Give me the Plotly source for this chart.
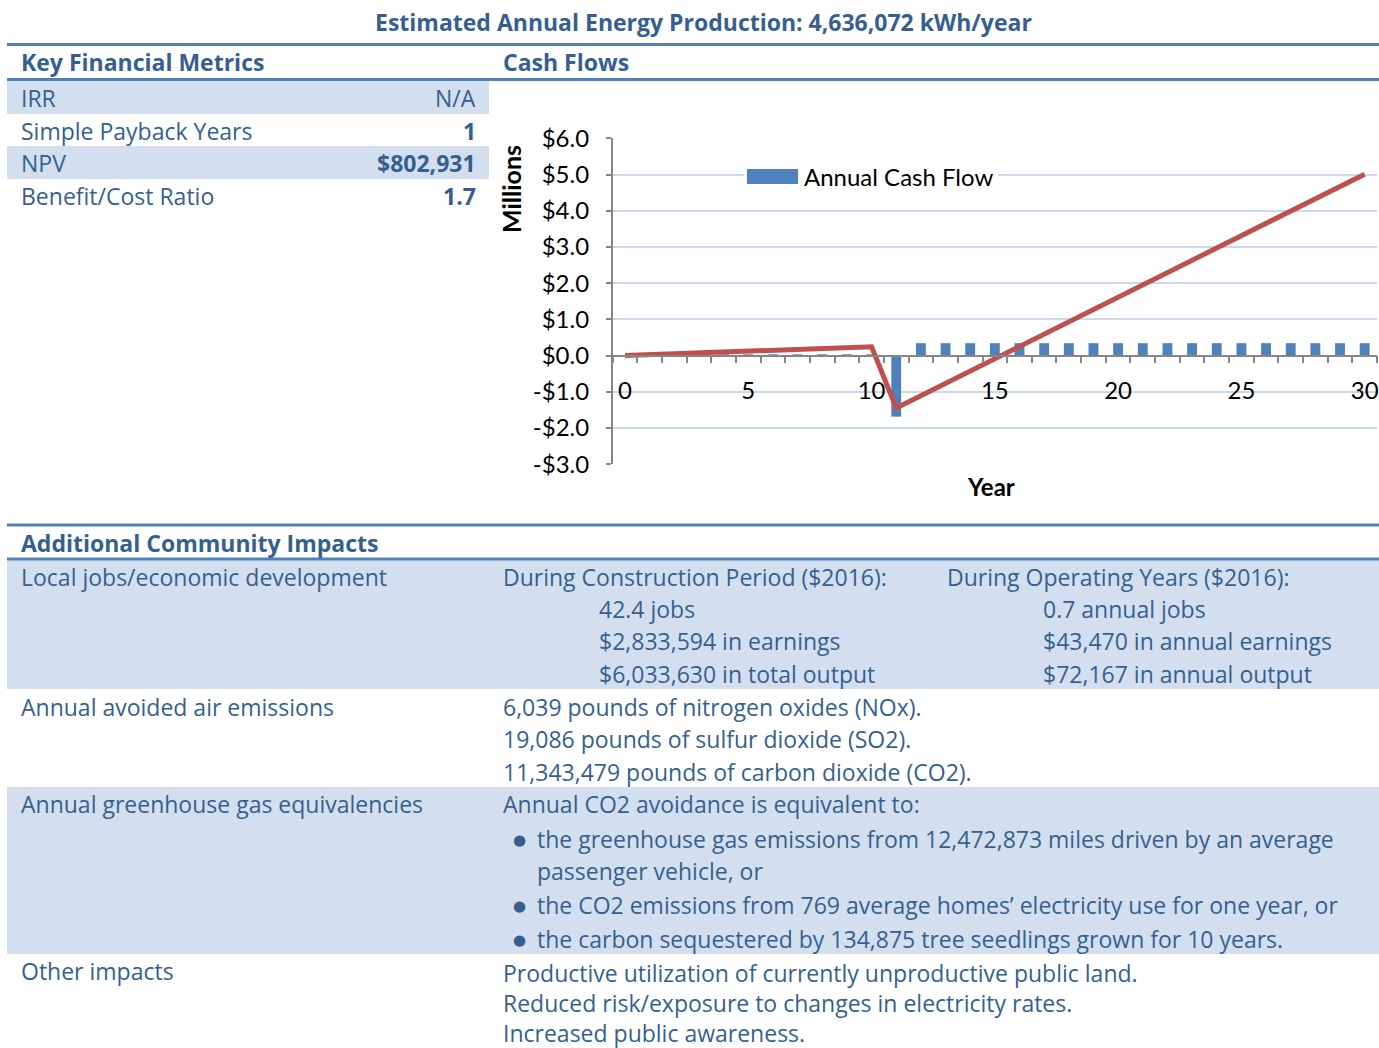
import plotly.graph_objects as go

W, H = 1379, 1048

# ---------------- data ----------------
years = list(range(31))
annual_cash_flow = [0.0, 0.024, 0.024, 0.024, 0.024, 0.024, 0.024, 0.024, 0.024, 0.024, 0.024,
                    -1.69, 0.34, 0.34, 0.34, 0.34, 0.34, 0.34, 0.34, 0.34, 0.34,
                    0.34, 0.34, 0.34, 0.34, 0.34, 0.34, 0.34, 0.34, 0.34, 0.34]
cumulative_cash_flow = [0.0, 0.024, 0.048, 0.072, 0.096, 0.12, 0.144, 0.168, 0.192, 0.216, 0.24,
                        -1.45, -1.11, -0.77, -0.43, -0.09, 0.25, 0.59, 0.93, 1.27, 1.61,
                        1.95, 2.29, 2.63, 2.97, 3.31, 3.65, 3.99, 4.33, 4.67, 5.01]
x_tick_vals = [0, 5, 10, 15, 20, 25, 30]
x_tick_text = ["0", "5", "10", "15", "20", "25", "30"]
y_tick_vals = [-3, -2, -1, 0, 1, 2, 3, 4, 5, 6]
y_tick_text = ["-$3.0", "-$2.0", "-$1.0", "$0.0", "$1.0", "$2.0", "$3.0", "$4.0", "$5.0", "$6.0"]

title_text = "Estimated Annual Energy Production: 4,636,072 kWh/year"
metric_labels = ["IRR", "Simple Payback Years", "NPV", "Benefit/Cost Ratio"]
metric_values = ["N/A", "1", "$802,931", "1.7"]
construction_lines = ["42.4 jobs", "$2,833,594 in earnings", "$6,033,630 in total output"]
operating_lines = ["0.7 annual jobs", "$43,470 in annual earnings", "$72,167 in annual output"]
emission_lines = ["6,039 pounds of nitrogen oxides (NOx).",
                  "19,086 pounds of sulfur dioxide (SO2).",
                  "11,343,479 pounds of carbon dioxide (CO2)."]
ghg_bullets = ["the greenhouse gas emissions from 12,472,873 miles driven by an average",
               "passenger vehicle, or",
               "the CO2 emissions from 769 average homes\u2019 electricity use for one year, or",
               "the carbon sequestered by 134,875 tree seedlings grown for 10 years."]
other_lines = ["Productive utilization of currently unproductive public land.",
               "Reduced risk/exposure to changes in electricity rates.",
               "Increased public awareness."]

# ---------------- style ----------------
TXT = "#365F91"
SHADE = "#D3DFEE"
RULE = "#4F81BD"
BODY_FONT = "Open Sans, Noto Sans, sans-serif"
CHART_FONT = "Lato, sans-serif"
FS = 23


def px(x):
    return x / W


def py(y):
    return 1 - y / H


fig = go.Figure()

fig.add_trace(go.Bar(x=years, y=annual_cash_flow, name="Annual Cash Flow",
                     marker=dict(color="#4F81BD", line=dict(width=0)), width=0.4,
                     showlegend=False))
fig.add_trace(go.Scatter(x=years, y=cumulative_cash_flow, mode="lines", name="Cumulative Cash Flow",
                         line=dict(color="#C0504D", width=5), showlegend=False))

shapes = []
annotations = []


def rect(x0, y0, x1, y1, color):
    shapes.append(dict(type="rect", xref="paper", yref="paper", x0=px(x0), x1=px(x1),
                       y0=py(y1), y1=py(y0), fillcolor=color, line=dict(width=0), layer="below"))


def hline(y, x0=7, x1=1379, width=3, color=RULE):
    shapes.append(dict(type="line", xref="paper", yref="paper", x0=px(x0), x1=px(x1),
                       y0=py(y), y1=py(y), line=dict(color=color, width=width), layer="above"))


def text(x, y, s, anchor="left", bold=False, size=FS, color=TXT, family=BODY_FONT, yanchor="middle"):
    if anchor == "left":
        x -= 2.5
    elif anchor == "right":
        x += 3
    annotations.append(dict(xref="paper", yref="paper", x=px(x), y=py(y), text=("<b>%s</b>" % s) if bold else s,
                            showarrow=False, xanchor=anchor, yanchor=yanchor, borderpad=0, align="left",
                            font=dict(family=family, size=size, color=color)))


# shading
rect(7, 81, 489, 114, SHADE)
rect(7, 146, 489, 179, SHADE)
rect(7, 560, 1379, 689, SHADE)
rect(7, 787, 1379, 954, SHADE)

# rules
hline(44.5)
hline(79.5)
hline(525)
hline(559)

# titles
text(703, 22, title_text, anchor="center", bold=True)
text(22, 62, "Key Financial Metrics", bold=True)
text(504, 62, "Cash Flows", bold=True)

row_y = [98, 131, 163, 196]
for lab, val, yy in zip(metric_labels, metric_values, row_y):
    text(22, yy, lab)
    text(474, yy, val, anchor="right", bold=(val != "N/A"))

text(22, 543, "Additional Community Impacts", bold=True)
text(22, 577, "Local jobs/economic development")
text(504, 577, "During Construction Period ($2016):")
text(948, 577, "During Operating Years ($2016):")
for s, yy in zip(construction_lines, [609, 641, 674]):
    text(600, yy, s)
for s, yy in zip(operating_lines, [609, 641, 674]):
    text(1044, yy, s)

text(22, 707, "Annual avoided air emissions")
for s, yy in zip(emission_lines, [707, 739, 772]):
    text(504, yy, s)

text(22, 804, "Annual greenhouse gas equivalencies")
text(504, 804, "Annual CO2 avoidance is equivalent to:")
for i, (s, yy) in enumerate(zip(ghg_bullets, [839, 871, 905, 939])):
    if i != 1:
        text(519, yy + 1, "\u25CF", anchor="center", size=15, family="DejaVu Sans")
    text(538, yy, s)

text(22, 971, "Other impacts")
# the three "other impacts" lines as one multi-line text block
text(504, 956, "<br>".join(other_lines), yanchor="top")

# chart legend (custom)
shapes.append(dict(type="rect", xref="paper", yref="paper", x0=px(744), x1=px(998), y0=py(188), y1=py(164),
                   fillcolor="white", line=dict(width=0), layer="above"))
shapes.append(dict(type="rect", xref="paper", yref="paper", x0=px(747), x1=px(798), y0=py(184), y1=py(169),
                   fillcolor="#4F81BD", line=dict(width=0), layer="above"))
text(805, 176, "Annual Cash Flow", color="#000000", family=CHART_FONT, size=24)

# axis titles
text(511, 189, "Millions", anchor="center", bold=True, color="#000000", family=CHART_FONT, size=25)
annotations[-1]["textangle"] = -90
text(991, 486, "Year", anchor="center", bold=True, color="#000000", family=CHART_FONT, size=24)

zero_y = 355.5
fig.update_layout(
    width=W, height=H, margin=dict(l=0, r=0, t=0, b=0, pad=0, autoexpand=False),
    paper_bgcolor="white", plot_bgcolor="white",
    shapes=shapes, annotations=annotations, bargap=0.6, showlegend=False,
    xaxis=dict(domain=[px(612.7), px(1377)], range=[-0.5, 30.5], anchor="free", position=py(zero_y),
               tickmode="array", tickvals=x_tick_vals, ticktext=x_tick_text,
               ticks="outside", ticklen=14, tickcolor="rgba(0,0,0,0)",
               showline=True, linecolor="#868686", linewidth=1.5, showgrid=False, zeroline=False,
               tickfont=dict(family=CHART_FONT, size=24, color="#000000"),
               minor=dict(tickmode="array", tickvals=[i - 0.5 for i in range(32)], ticks="outside",
                          ticklen=7, tickcolor="#868686", tickwidth=1.5, showgrid=False)),
    yaxis=dict(domain=[py(464.1), py(138.3)], range=[-3, 6], tickmode="array",
               tickvals=y_tick_vals, ticktext=y_tick_text, ticks="outside", ticklen=5,
               tickcolor="#868686", tickwidth=1.5, showline=True, linecolor="#868686", linewidth=1.5,
               showgrid=True, gridcolor="#C9D9EE", gridwidth=2, zeroline=False, ticklabelstandoff=12,
               tickfont=dict(family=CHART_FONT, size=24, color="#000000")),
)

fig.write_html("out.html", config={"displayModeBar": False},
               post_script="document.body.style.margin='0';document.body.style.overflow='hidden';")
